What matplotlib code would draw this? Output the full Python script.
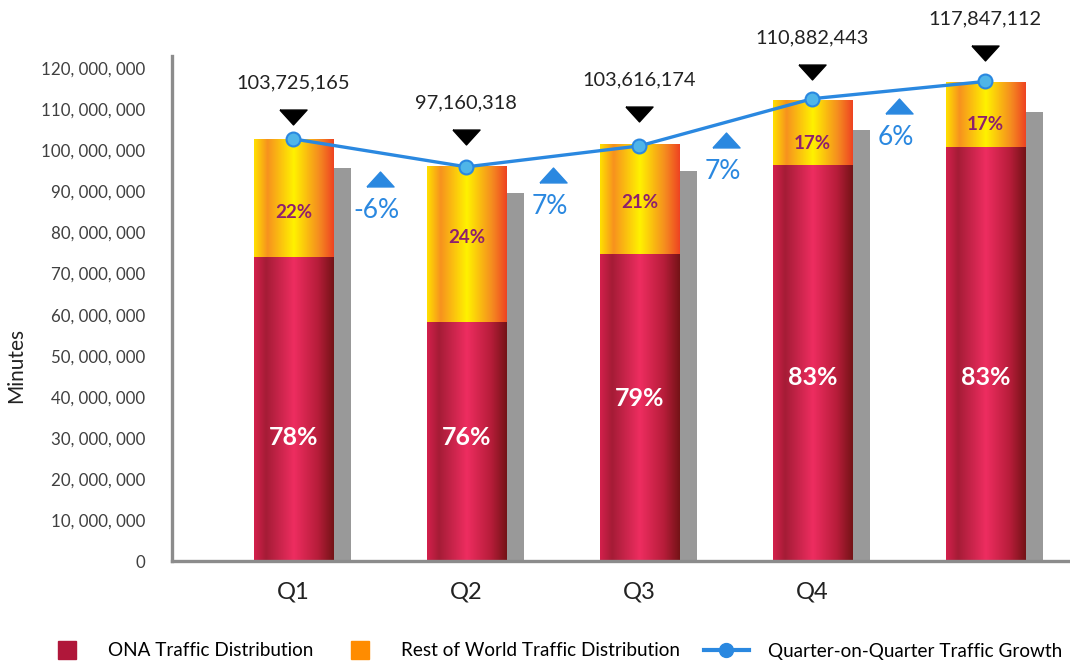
import numpy as np
import matplotlib
matplotlib.use('Agg')
import matplotlib.pyplot as plt
from matplotlib.colors import LinearSegmentedColormap
from matplotlib.lines import Line2D
from matplotlib.ticker import FuncFormatter, MultipleLocator
from matplotlib.transforms import ScaledTranslation

# ---------------- data ----------------
categories = ['Q1', 'Q2', 'Q3', 'Q4', '']
ona_minutes = [74.1e6, 58.2e6, 74.8e6, 96.4e6, 100.9e6]
row_minutes = [28.7e6, 38.0e6, 26.7e6, 15.9e6, 15.8e6]
shadow_minutes = [95.8e6, 89.7e6, 95.0e6, 105.0e6, 109.4e6]
growth_line = [102.8e6, 96.0e6, 101.1e6, 112.6e6, 116.8e6]
total_labels = ['103,725,165', '97,160,318', '103,616,174', '110,882,443', '117,847,112']
ona_pct = ['78%', '76%', '79%', '83%', '83%']
row_pct = ['22%', '24%', '21%', '17%', '17%']
growth_pct = ['-6%', '7%', '7%', '6%']
growth_marker_y = [93.0e6, 94.0e6, 102.5e6, 110.8e6]

# ---------------- layout ----------------
ona_label_y = [30.2e6, 30.2e6, 39.7e6, 44.8e6, 44.8e6]
row_label_y = [85.0e6, 78.9e6, 87.4e6, 101.8e6, 106.4e6]
tri_gap_px = [22, 29, 30, 28, 29]
text_gap_px = 34
bar_w = 0.457
shadow_dx = 0.104

plt.rcParams['font.family'] = ['Lato', 'DejaVu Sans']

W, H = 1070, 661
fig = plt.figure(figsize=(W / 100, H / 100), dpi=100)
fig.patch.set_facecolor('white')
ax = fig.add_axes([172 / W, (H - 561) / H, (W - 172) / W, 505 / H])

x = np.arange(len(categories))

ona_cmap = LinearSegmentedColormap.from_list('ona', [
    (0.00, '#d4204c'), (0.15, '#a51c36'), (0.50, '#ee2d60'),
    (0.80, '#b71d3a'), (1.00, '#741316')])
row_cmap = LinearSegmentedColormap.from_list('row', [
    (0.00, '#ffe000'), (0.17, '#f7921e'), (0.50, '#fff200'),
    (0.82, '#f58a20'), (1.00, '#ee4322')])
grad = np.linspace(0, 1, 256).reshape(1, -1)

# shadow bars
ax.bar(x + shadow_dx, shadow_minutes, bar_w, color='#999999', zorder=1)

ona_bars = ax.bar(x, ona_minutes, bar_w, color='none', zorder=2)
row_bars = ax.bar(x, row_minutes, bar_w, bottom=ona_minutes, color='none',
                  edgecolor='#f7941d', linewidth=0.6, zorder=2)


def fill_gradient(bars, cmap):
    for b in bars:
        x0, y0 = b.get_x(), b.get_y()
        x1, y1 = x0 + b.get_width(), y0 + b.get_height()
        im = ax.imshow(grad, extent=[x0, x1, y0, y1], aspect='auto', cmap=cmap,
                       interpolation='bilinear', zorder=2)
        im.set_clip_path(b)


fill_gradient(ona_bars, ona_cmap)
fill_gradient(row_bars, row_cmap)

# line
blue = '#2a88e0'
ax.plot(x, growth_line, color=blue, lw=2.4, zorder=5, marker='o', ms=10,
        markerfacecolor='#4fb5e8', markeredgecolor=blue, markeredgewidth=1.5)

# triangle markers
tri_down = [(-1, 0.55), (1, 0.55), (0, -0.55), (-1, 0.55)]
tri_up = [(-1, -0.55), (1, -0.55), (0, 0.55), (-1, -0.55)]
totals = [o + r for o, r in zip(ona_minutes, row_minutes)]
for i in range(len(categories)):
    tr = ax.transData + ScaledTranslation(0, tri_gap_px[i] / 100, fig.dpi_scale_trans)
    ax.plot([x[i]], [totals[i]], marker=tri_down, ms=19.5, color='black',
            ls='none', transform=tr, clip_on=False, zorder=6)
    ax.annotate(total_labels[i], (x[i], totals[i]), xytext=(0, tri_gap_px[i] + text_gap_px),
                textcoords='offset pixels', ha='center', va='center',
                fontsize=14.4, color='#222222', annotation_clip=False)
    ax.text(x[i], ona_label_y[i], ona_pct[i], ha='center', va='center',
            fontsize=18, fontweight='bold', color='white', zorder=7)
    ax.text(x[i], row_label_y[i], row_pct[i], ha='center', va='center',
            fontsize=13.5, fontweight='bold', color='#8e1f6e', zorder=7)

for j in range(len(growth_pct)):
    xm = x[j] + 0.5
    ax.plot([xm], [growth_marker_y[j]], marker=tri_up, ms=19.5, color=blue,
            ls='none', zorder=6)
    ax.annotate(growth_pct[j], (xm, growth_marker_y[j]), xytext=(-3, -31),
                textcoords='offset pixels', ha='center', va='center',
                fontsize=19, color=blue)

# axes styling
ax.set_xlim(-0.702, 4.49)
ax.set_ylim(0, 123e6)
ax.yaxis.set_major_locator(MultipleLocator(10e6))


def yfmt(v, pos):
    if v == 0:
        return '0'
    return f'{int(round(v)):,}'.replace(',', ', ')


ax.yaxis.set_major_formatter(FuncFormatter(yfmt))
ax.set_xticks(x)
ax.set_xticklabels(categories)
ax.tick_params(axis='y', length=0, pad=19, labelsize=12.2, labelcolor='#404040')
ax.tick_params(axis='x', length=0, pad=15, labelsize=17, labelcolor='#222222')
for s in ['top', 'right']:
    ax.spines[s].set_visible(False)
for s in ['left', 'bottom']:
    ax.spines[s].set_color('#8c8c8c')
    ax.spines[s].set_linewidth(2.4)
ax.set_facecolor('none')
ax.set_ylabel('Minutes', fontsize=15, color='#222222')
ax.yaxis.set_label_coords(-0.162, 0.388)

# legend
handles = [
    Line2D([], [], marker='s', ls='none', ms=12.5, color='#b0173a'),
    Line2D([], [], marker='s', ls='none', ms=12.5, color='#ff8c00'),
    Line2D([], [], marker='o', ls='-', lw=3, ms=10, color=blue),
]
labels = ['ONA Traffic Distribution', 'Rest of World Traffic Distribution',
          'Quarter-on-Quarter Traffic Growth']
fig.legend(handles, labels, loc='center left', bbox_to_anchor=(44 / W, 1 - 651 / H),
           ncol=3, frameon=False, fontsize=13.6, handlelength=2.4,
           handletextpad=0.99, columnspacing=1.25, borderaxespad=0, borderpad=0)

fig.savefig('out.png', dpi=100, facecolor='white')
